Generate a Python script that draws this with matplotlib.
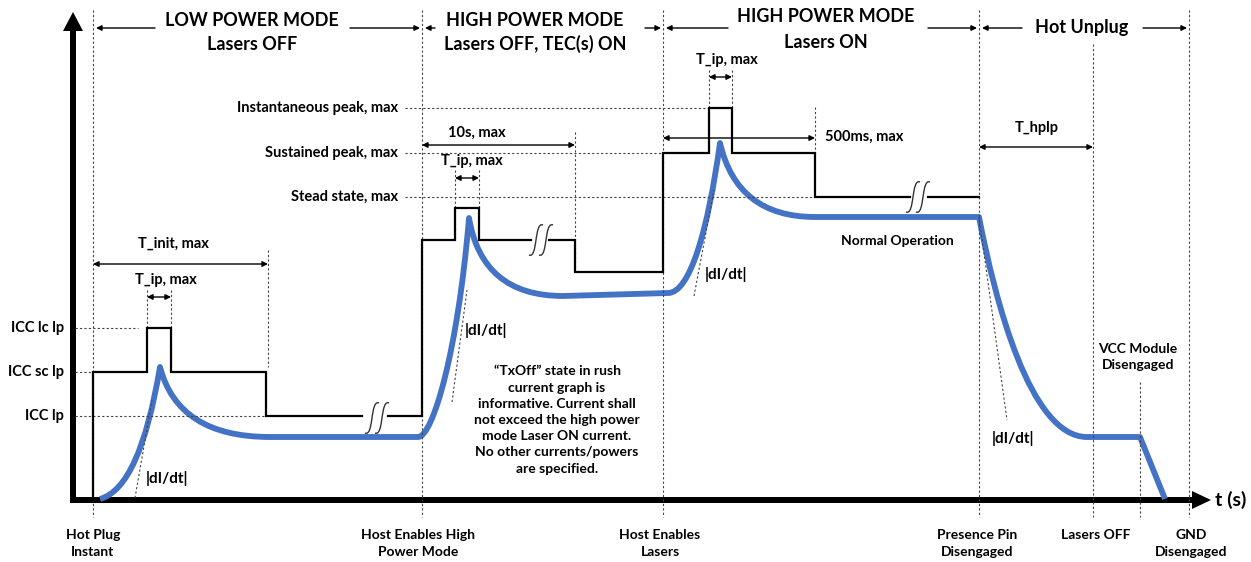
import matplotlib.pyplot as plt
from matplotlib.path import Path
from matplotlib.patches import PathPatch

plt.rcParams['font.family'] = ['Lato', 'DejaVu Sans']
plt.rcParams['font.weight'] = 'bold'

# schematic units: t grows to the right, current grows upward (origin at y=500)
t_events = [93, 422, 663, 979, 1093, 1140, 1189]
event_names = ['Hot Plug\nInstant', 'Host Enables High\nPower Mode', 'Host Enables\nLasers',
               'Presence Pin\nDisengaged', 'Lasers OFF', '', 'GND\nDisengaged']
event_top = [10, 10, 10, 10, 44, 382, 10]

low_levels = [328, 372, 416]
low_names = ['ICC lc lp', 'ICC sc lp', 'ICC lp']
low_ref_end = [138, 93, 266]
high_levels = [108, 153, 197]
high_names = ['Instantaneous peak, max', 'Sustained peak, max', 'Stead state, max']
high_ref_end = [709, 663, 815]

# max current envelope, split where the break marks sit
env_x = [[93, 93, 147, 147, 171, 171, 266, 266, 362],
         [388, 422, 422, 455, 455, 479, 479, 531],
         [549, 575, 575, 663, 663, 709, 709, 732, 732, 815, 815, 910],
         [928, 979]]
env_y = [[500, 372, 372, 328, 328, 372, 372, 416, 416],
         [416, 416, 240, 240, 208, 208, 240, 240],
         [240, 240, 272, 272, 153, 153, 108, 108, 153, 153, 197, 197],
         [197, 197]]
breaks = [(377, 418), (541, 240), (918, 197)]

# typical current: control points of the bezier pieces
cur_pts = [(100, 499),
           (140, 488), (160, 367),
           (178, 437), (270, 437),
           (418, 437),
           (433, 437), (458, 350), (469, 218),
           (482, 296), (563, 296),
           (668, 293),
           (690, 293), (708, 230), (720, 143),
           (737, 217), (815, 217),
           (979, 217),
           (995, 300), (1030, 437), (1087, 437),
           (1140, 437),
           (1165, 499)]
cur_codes = [Path.MOVETO,
             Path.CURVE3, Path.CURVE3,
             Path.CURVE3, Path.CURVE3,
             Path.LINETO,
             Path.CURVE4, Path.CURVE4, Path.CURVE4,
             Path.CURVE3, Path.CURVE3,
             Path.LINETO,
             Path.CURVE4, Path.CURVE4, Path.CURVE4,
             Path.CURVE3, Path.CURVE3,
             Path.LINETO,
             Path.CURVE4, Path.CURVE4, Path.CURVE4,
             Path.LINETO,
             Path.LINETO]

# slope guides: (x0, y0, x1, y1, label x, label y)
slopes = [(135, 498, 152, 400, 167, 479),
          (452, 402, 467, 290, 486, 330),
          (694, 296, 714, 190, 726, 275),
          (979, 217, 1007, 420, 1013, 439)]

# timing dimensions: (x0, x1, y, label, label x, label y, ha)
spans = [(93, 268, 264, 'T_init, max', 173, 244, 'center'),
         (147, 171, 297, 'T_ip, max', 166, 280, 'center'),
         (422, 575, 145, '10s, max', 477, 133, 'center'),
         (455, 479, 178, 'T_ip, max', 472, 161, 'center'),
         (709, 732, 77, 'T_ip, max', 727, 60, 'center'),
         (663, 815, 138, '500ms, max', 825, 137, 'left'),
         (979, 1093, 147, 'T_hplp', 1037, 128, 'center')]
# dashed limits of those dimensions: (x, y_top, y_bottom)
span_marks = [(147, 290, 328), (171, 290, 372), (268, 250, 367),
              (455, 170, 240), (479, 170, 208), (575, 132, 272),
              (709, 70, 153), (732, 70, 108), (815, 107, 153)]

# operating phases: (left, right, lines, text x, line ys, left arrow end, right arrow start)
phases = [(93, 422, ['LOW POWER MODE', 'Lasers OFF'], 252, [20, 44], 155, 350),
          (422, 663, ['HIGH POWER MODE', 'Lasers OFF, TEC(s) ON'], 535, [20, 44], 435, 645),
          (663, 979, ['HIGH POWER MODE', 'Lasers ON'], 826, [17, 42], 728, 928),
          (979, 1189, ['Hot Unplug'], 1082, [28], 1022, 1143)]

note = ('\u201cTxOff\u201d state in rush\ncurrent graph is\ninformative. Current shall\n'
        'not exceed the high power\nmode Laser ON current.\nNo other currents/powers\n'
        'are specified.')

fig = plt.figure(figsize=(12.51, 5.62), dpi=100)
ax = fig.add_axes([0, 0, 1, 1])
ax.set_xlim(0, 1251)
ax.set_ylim(562, 0)
ax.axis('off')

dot = dict(color='#444444', lw=0.8, ls=(0, (2, 2)))

for x, top in zip(t_events, event_top):
    ax.plot([x, x], [top, 517], **dot)
for y, end in zip(low_levels, low_ref_end):
    ax.plot([75, end], [y, y], **dot)
for y, end in zip(high_levels, high_ref_end):
    ax.plot([405, end], [y, y], **dot)
for x, y0, y1 in span_marks:
    ax.plot([x, x], [y0, y1], **dot)

# axes arrows
ax.arrow(73, 503, 0, -491, width=6, head_width=20, head_length=19,
         length_includes_head=True, fc='k', ec='none')
ax.arrow(70, 500, 1141, 0, width=6, head_width=18, head_length=19,
         length_includes_head=True, fc='k', ec='none')
ax.text(1215, 500, 't (s)', fontsize=14, va='center', ha='left')

# envelope
for xs, ys in zip(env_x, env_y):
    ax.plot(xs, ys, color='black', lw=1.6, solid_joinstyle='miter')
for bx, by in breaks:
    for dx in (-5, 5):
        p = Path([(bx + dx - 7, by + 15), (bx + dx + 2, by + 19),
                  (bx + dx - 2, by - 19), (bx + dx + 7, by - 15)],
                 [Path.MOVETO, Path.CURVE4, Path.CURVE4, Path.CURVE4])
        ax.add_patch(PathPatch(p, fc='none', ec='#333333', lw=1))

# typical current
ax.add_patch(PathPatch(Path(cur_pts, cur_codes), fc='none', ec='#4472C4',
                       lw=4.2, capstyle='butt', joinstyle='round'))

for x0, y0, x1, y1, lx, ly in slopes:
    ax.plot([x0, x1], [y0, y1], **dot)
    ax.text(lx, ly, '|dI/dt|', fontsize=11, ha='center', va='center')

for x0, x1, y, label, lx, ly, ha in spans:
    ax.annotate('', xy=(x1, y), xytext=(x0, y),
                arrowprops=dict(arrowstyle='<|-|>', mutation_scale=8, lw=1,
                                color='black', shrinkA=0, shrinkB=0))
    ax.text(lx, ly, label, fontsize=10.5, ha=ha, va='center')

for left, right, lines, tx, ys, la, ra in phases:
    ax.annotate('', xy=(left + 3, 28), xytext=(la, 28),
                arrowprops=dict(arrowstyle='-|>', mutation_scale=8, lw=1,
                                color='black', shrinkA=0, shrinkB=0))
    ax.annotate('', xy=(right - 2, 28), xytext=(ra, 28),
                arrowprops=dict(arrowstyle='-|>', mutation_scale=8, lw=1,
                                color='black', shrinkA=0, shrinkB=0))
    for line, y in zip(lines, ys):
        ax.text(tx, y, line, fontsize=13, ha='center', va='center')

for y, name in zip(low_levels, low_names):
    ax.text(64, y, name, fontsize=10.5, ha='right', va='center')
for y, name in zip(high_levels, high_names):
    ax.text(398, y, name, fontsize=10.5, ha='right', va='center')

label_x = [93, 418, 660, 977, 1096, 1140, 1191]
for x, name in zip(label_x, event_names):
    if name:
        ax.text(x, 529, name, fontsize=10, ha='center', va='top', linespacing=1.45)

ax.text(1138, 357, 'VCC Module\nDisengaged', fontsize=10, ha='center', va='center',
        linespacing=1.45)
ax.text(897, 241, 'Normal Operation', fontsize=10, ha='center', va='center')
ax.text(557, 420, note, fontsize=10, ha='center', va='center', linespacing=1.42)

fig.savefig('out.png', dpi=100)
